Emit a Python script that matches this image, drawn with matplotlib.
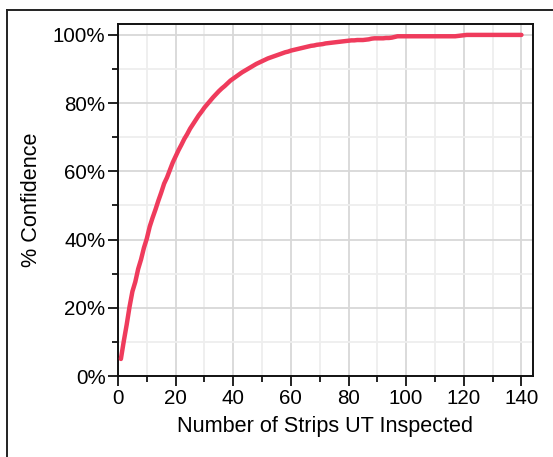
import matplotlib
matplotlib.use("Agg")
import matplotlib.pyplot as plt
from matplotlib.ticker import MultipleLocator, PercentFormatter
from matplotlib.lines import Line2D

plt.rcParams["font.family"] = ["Liberation Sans", "DejaVu Sans"]

# Number of strips inspected and the cumulative confidence (%)
strips = list(range(1, 141))
confidence = [
    5.0, 10.2, 15.0, 20.3, 24.8, 27.6, 31.4, 34.2, 37.6, 40.3,
    43.8, 46.4, 48.8, 51.4, 53.8, 56.4, 58.2, 60.4, 62.6, 64.4,
    66.2, 67.8, 69.5, 70.9, 72.5, 73.8, 75.1, 76.4, 77.5, 78.7,
    79.7, 80.7, 81.7, 82.6, 83.5, 84.3, 85.0, 85.8, 86.6, 87.2,
    87.8, 88.4, 89.0, 89.5, 90.0, 90.5, 91.0, 91.5, 91.9, 92.3,
    92.7, 93.1, 93.4, 93.7, 94.0, 94.3, 94.6, 94.9, 95.1, 95.4,
    95.6, 95.8, 96.0, 96.2, 96.4, 96.6, 96.8, 96.9, 97.1, 97.2,
    97.3, 97.5, 97.6, 97.7, 97.8, 97.9, 98.0, 98.1, 98.2, 98.3,
    98.4, 98.4, 98.5, 98.5, 98.5, 98.6, 98.7, 98.9, 99.0, 99.0,
    99.0, 99.0, 99.1, 99.1, 99.2, 99.4, 99.6, 99.6, 99.6, 99.6,
    99.6, 99.6, 99.6, 99.6, 99.6, 99.6, 99.6, 99.6, 99.6, 99.6,
    99.6, 99.6, 99.6, 99.6, 99.6, 99.6, 99.6, 99.7, 99.8, 99.9,
    100.0, 100.0, 100.0, 100.0, 100.0, 100.0, 100.0, 100.0, 100.0, 100.0,
    100.0, 100.0, 100.0, 100.0, 100.0, 100.0, 100.0, 100.0, 100.0, 100.0,
]

x_ticks = [0, 20, 40, 60, 80, 100, 120, 140]
y_ticks = [0, 20, 40, 60, 80, 100]

fig = plt.figure(figsize=(5.53, 4.57), dpi=100)
ax = fig.add_axes([0.2134, 0.1772, 0.7504, 0.7703])

ax.plot(strips, confidence, color="#EF3B5C", lw=3.2, solid_capstyle="round", zorder=3)

ax.set_xlim(0, 144)
ax.set_ylim(0, 103.2)
ax.set_xticks(x_ticks)
ax.set_yticks(y_ticks)
ax.xaxis.set_minor_locator(MultipleLocator(10))
ax.yaxis.set_minor_locator(MultipleLocator(10))
ax.yaxis.set_major_formatter(PercentFormatter(decimals=0))

ax.grid(which="major", color="#d8d8d8", lw=1.3, zorder=0)
ax.grid(which="minor", color="#eeeeee", lw=1.3, zorder=0)
ax.set_axisbelow(True)

for s in ax.spines.values():
    s.set_linewidth(1.4)
    s.set_color("#111111")

ax.tick_params(which="major", direction="out", length=7, width=1.3,
               labelsize=14.8, pad=2, color="#111111")
ax.tick_params(which="minor", direction="out", length=4.5, width=1.3, color="#111111")

ax.set_xlabel("Number of Strips UT Inspected", fontsize=15.6, labelpad=6)
ax.set_ylabel("% Confidence", fontsize=15.6, labelpad=8)

# outer frame (left and top edges)
fig.add_artist(Line2D([7 / 553, 7 / 553], [0, 1 - 10 / 457],
                      transform=fig.transFigure, color="#222222", lw=1.4))
fig.add_artist(Line2D([7 / 553, 1], [1 - 10 / 457, 1 - 10 / 457],
                      transform=fig.transFigure, color="#222222", lw=1.4))

fig.savefig("out.png", dpi=100)
